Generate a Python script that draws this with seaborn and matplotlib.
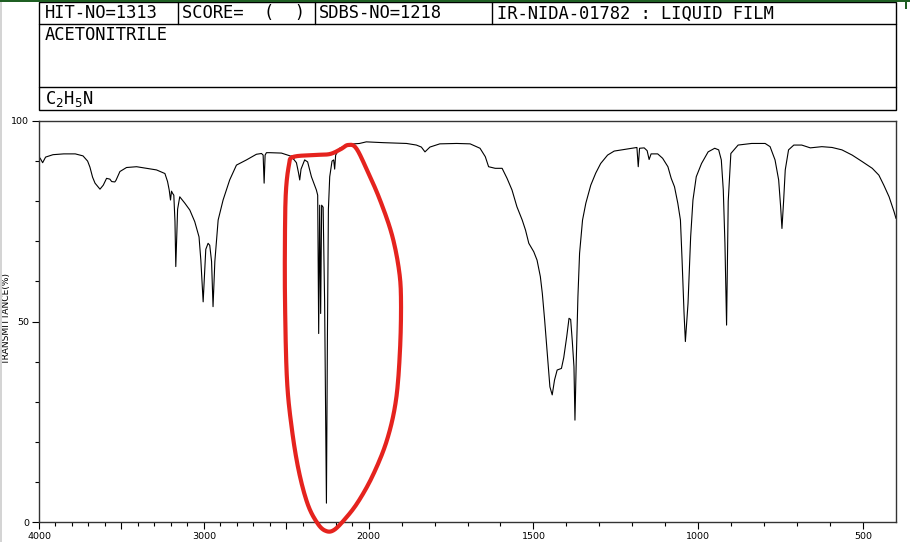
import numpy as np
import pandas as pd
import matplotlib
matplotlib.use("Agg")
import matplotlib.pyplot as plt
from matplotlib.patches import Rectangle
import seaborn as sns

# ---------------- data ----------------
wavenumber = [4000, 3990, 3978, 3960, 3915, 3850, 3780, 3733, 3705, 3691, 3675, 3660, 3630, 3610,
              3590, 3570, 3559, 3540, 3533, 3509, 3469, 3408, 3347, 3287, 3236, 3220, 3210, 3202,
              3196, 3190, 3182, 3175, 3170, 3164, 3159, 3146, 3115, 3085, 3055, 3029, 3018, 3004,
              2995, 2988, 2974, 2964, 2953, 2944, 2933, 2913, 2883, 2843, 2802, 2741, 2681, 2650,
              2640, 2634, 2628, 2620, 2600, 2529, 2469, 2438, 2425, 2418, 2410, 2388, 2370, 2347,
              2317, 2309, 2303, 2297, 2291, 2285, 2276, 2267, 2256, 2250, 2244, 2236, 2222, 2212,
              2206, 2200, 2176, 2120, 2055, 2014, 1956, 1885, 1855, 1840, 1829, 1814, 1784, 1733,
              1692, 1662, 1646, 1636, 1616, 1595, 1580, 1565, 1550, 1534, 1524, 1514, 1499, 1489,
              1479, 1473, 1466, 1458, 1450, 1443, 1436, 1428, 1415, 1408, 1399, 1392, 1387, 1382,
              1377, 1374, 1370, 1365, 1360, 1351, 1341, 1326, 1311, 1296, 1275, 1255, 1225, 1186,
              1182, 1178, 1164, 1155, 1149, 1143, 1123, 1108, 1092, 1082, 1072, 1062, 1054, 1049,
              1043, 1039, 1031, 1023, 1016, 1006, 990, 970, 950, 938, 930, 924, 919, 914, 909, 901,
              879, 838, 797, 782, 767, 756, 750, 746, 741, 736, 726, 710, 686, 660, 625, 594, 564,
              533, 503, 472, 452, 437, 421, 406, 400]
transmittance = [91.1, 90.5, 89.6, 91.0, 91.6, 91.8, 91.8, 91.3, 90.0, 88.5, 86.0, 84.5, 83.0, 84.0,
                 85.7, 85.5, 84.9, 84.8, 85.2, 87.4, 88.4, 88.6, 88.2, 87.8, 86.9, 84.9, 82.8, 80.3,
                 82.5, 82.0, 81.5, 75.0, 63.7, 72.0, 78.0, 81.1, 79.5, 77.8, 74.9, 71.1, 65.3, 54.9,
                 62.0, 68.0, 69.5, 69.0, 65.0, 53.7, 65.0, 75.3, 80.3, 85.3, 89.0, 90.3, 91.7, 91.9,
                 91.5, 84.5, 91.5, 92.1, 92.1, 92.0, 91.2, 89.6, 87.0, 85.3, 88.0, 90.3, 89.8, 86.1,
                 82.8, 81.5, 47.0, 79.0, 52.0, 79.0, 78.5, 55.0, 4.7, 46.0, 78.0, 86.1, 90.0, 90.3,
                 88.0, 91.5, 93.2, 94.2, 94.4, 94.8, 94.6, 94.4, 94.0, 93.5, 92.3, 93.5, 94.3, 94.4,
                 94.3, 93.2, 91.1, 88.6, 88.2, 88.2, 85.7, 82.8, 78.6, 75.3, 72.8, 69.5, 67.4, 65.3,
                 61.2, 57.0, 50.4, 42.1, 33.7, 31.7, 35.4, 37.9, 38.3, 41.0, 46.2, 50.8, 50.5, 45.0,
                 38.7, 25.4, 40.4, 56.2, 67.0, 75.3, 79.5, 84.0, 87.0, 89.4, 91.5, 92.5, 92.9, 93.4,
                 88.6, 93.2, 93.3, 92.6, 90.4, 91.8, 91.8, 90.7, 88.6, 85.7, 83.6, 79.5, 75.3, 65.3,
                 52.0, 45.0, 54.5, 71.1, 80.3, 86.1, 89.4, 92.3, 93.2, 92.8, 90.3, 82.8, 69.5, 49.1, 80.0, 91.9,
                 94.0, 94.4, 94.4, 93.6, 90.3, 85.3, 78.6, 73.2, 80.0, 87.8, 92.8, 94.0, 94.0, 93.3, 93.6, 93.4, 92.8,
                 91.5, 89.9, 88.2, 86.5, 84.0, 81.1, 77.4, 75.7]

x_major_ticks = [4000, 3500, 3000, 2500, 2000, 1500, 1000, 500]
x_major_labels = ["4000", "", "3000", "", "2000", "1500", "1000", "500"]
x_minor_ticks = [v for v in range(3900, 400, -100) if v not in x_major_ticks]
y_major_ticks = [0, 50, 100]
y_major_labels = ["0", "50", "100"]
y_minor_ticks = [10, 20, 30, 40, 60, 70, 80, 90]

header_cells = ["HIT-NO=1313", "SCORE=  (  )", "SDBS-NO=1218", "IR-NIDA-01782 : LIQUID FILM"]
compound_name = "ACETONITRILE"
formula = r"C$_2$H$_5$N"
y_label = "TRANSMITTANCE(%)"

# hand-drawn red highlight loop (annotation, figure pixel coordinates)
loop_x = [293, 315, 330, 341, 348, 356, 367, 380, 392, 399, 401, 400, 396, 387, 373, 358, 345, 334,
          326, 318, 308, 299, 292, 287, 285, 285, 286, 289]
loop_y = [157, 155, 154, 149, 145, 148, 170, 200, 235, 270, 300, 350, 400, 440, 475, 502, 519, 530,
          531, 524, 505, 472, 430, 380, 300, 230, 190, 165]

# ---------------- figure ----------------
sns.set_theme(style="ticks")
plt.rcParams["font.family"] = ["DejaVu Sans"]

W, H = 910, 542
fig = plt.figure(figsize=(W / 100, H / 100), dpi=100)
fig.patch.set_facecolor("white")


def fx(px):
    return px / W


def fy(py):
    return 1 - py / H


ax = fig.add_axes([fx(39), fy(522), fx(896) - fx(39), fy(121) - fy(522)])
ax.set_facecolor("white")


def fwd(x):
    x = np.asarray(x, dtype=float)
    return np.where(x > 2000, 2000 + (x - 2000) / 2.0, x)


def inv(u):
    u = np.asarray(u, dtype=float)
    return np.where(u > 2000, 2000 + (u - 2000) * 2.0, u)


ax.set_xscale("function", functions=(fwd, inv))

df = pd.DataFrame({"wavenumber": wavenumber, "transmittance": transmittance})
sns.lineplot(data=df, x="wavenumber", y="transmittance", ax=ax, color="black",
             linewidth=0.8, sort=False, estimator=None)

ax.set_xlim(4000, 400)
ax.set_ylim(0, 100)
ax.set_xticks(x_major_ticks, x_major_labels)
ax.set_xticks(x_minor_ticks, minor=True)
ax.set_yticks(y_major_ticks, y_major_labels)
ax.set_yticks(y_minor_ticks, minor=True)
ax.tick_params(axis="both", which="major", direction="out", length=5, width=0.8,
               color="black", labelsize=6.8, pad=2, labelcolor="black")
ax.tick_params(axis="both", which="minor", direction="out", length=3, width=0.8, color="black")
ax.set_xlabel("")
ax.set_ylabel(y_label, fontsize=6.6, color="black")
ax.yaxis.label.set_verticalalignment("center")
ax.yaxis.set_label_coords(-0.0375, 0.509)
for s in ax.spines.values():
    s.set_visible(True)
    s.set_color("#333333")
    s.set_linewidth(1.0)

# ---------------- overlay: header box, frame bits, red loop ----------------
ov = fig.add_axes([0, 0, 1, 1], zorder=5)
ov.set_xlim(0, W)
ov.set_ylim(H, 0)
ov.axis("off")
ov.patch.set_alpha(0)

ov.add_patch(Rectangle((39, 2), 857, 108, fill=False, lw=1.0, ec="black"))
ov.plot([39, 896], [24, 24], color="black", lw=1.0)
ov.plot([39, 896], [87, 87], color="black", lw=1.0)
for cx in [178, 315, 492]:
    ov.plot([cx, cx], [2, 24], color="black", lw=1.0)

cell_x = [45, 182, 319, 497]
for cx, txt in zip(cell_x, header_cells):
    ov.text(cx, 13.5, txt, family="DejaVu Sans Mono", fontsize=12.3, va="center", ha="left",
            color="black")
ov.text(45, 34.5, compound_name, family="DejaVu Sans Mono", fontsize=12.3, va="center",
        ha="left", color="black")
ov.text(45, 99, formula, family="DejaVu Sans Mono", fontsize=12.3, va="center", ha="left",
        color="black")

# screenshot edges
ov.add_patch(Rectangle((0, 0), W, 2, color="#1f5f23", lw=0))
ov.add_patch(Rectangle((905, 0), 2, 9, color="#1f5f23", lw=0))
ov.add_patch(Rectangle((0, 2), 2, H, color="#d4d4d4", lw=0))

# smooth closed Catmull-Rom curve for the red loop
P = np.column_stack([loop_x, loop_y]).astype(float)
n = len(P)
curve = []
ts = np.linspace(0, 1, 12, endpoint=False)
for i in range(n):
    p0, p1, p2, p3 = P[i - 1], P[i], P[(i + 1) % n], P[(i + 2) % n]
    for t in ts:
        t2, t3 = t * t, t * t * t
        pt = 0.5 * ((2 * p1) + (-p0 + p2) * t + (2 * p0 - 5 * p1 + 4 * p2 - p3) * t2
                    + (-p0 + 3 * p1 - 3 * p2 + p3) * t3)
        curve.append(pt)
curve.append(curve[0])
curve = np.array(curve)
ov.plot(curve[:, 0], curve[:, 1], color="#e5231e", lw=3.0, solid_capstyle="round",
        solid_joinstyle="round")

fig.savefig("out.png", dpi=100, facecolor="white")
